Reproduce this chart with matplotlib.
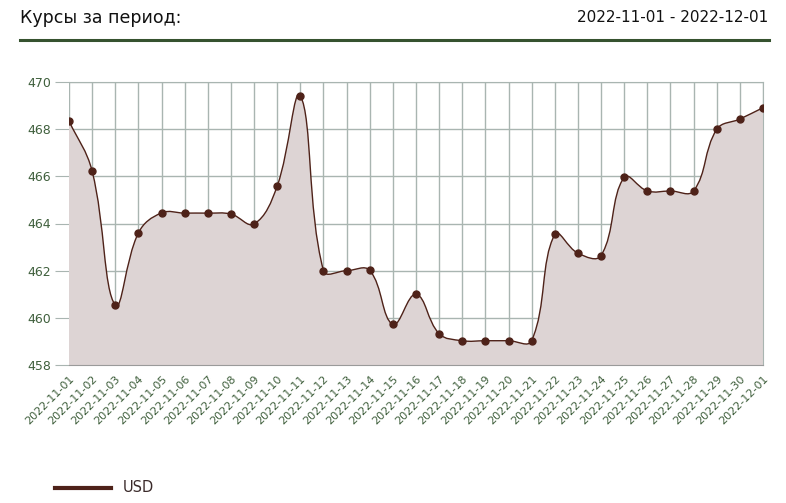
import matplotlib
matplotlib.use("Agg")
import matplotlib.pyplot as plt
import numpy as np
from matplotlib.path import Path
from matplotlib.patches import PathPatch
from matplotlib.lines import Line2D

dates = [
    "2022-11-01", "2022-11-02", "2022-11-03", "2022-11-04", "2022-11-05",
    "2022-11-06", "2022-11-07", "2022-11-08", "2022-11-09", "2022-11-10",
    "2022-11-11", "2022-11-12", "2022-11-13", "2022-11-14", "2022-11-15",
    "2022-11-16", "2022-11-17", "2022-11-18", "2022-11-19", "2022-11-20",
    "2022-11-21", "2022-11-22", "2022-11-23", "2022-11-24", "2022-11-25",
    "2022-11-26", "2022-11-27", "2022-11-28", "2022-11-29", "2022-11-30",
    "2022-12-01",
]
usd = [
    468.35, 466.22, 460.54, 463.60, 464.45,
    464.44, 464.44, 464.40, 463.98, 465.59,
    469.42, 462.00, 462.00, 462.01, 459.72,
    461.00, 459.33, 459.03, 459.03, 459.03,
    459.03, 463.54, 462.74, 462.64, 465.96,
    465.38, 465.38, 465.38, 467.99, 468.43,
    468.91,
]
y_ticks = [458, 460, 462, 464, 466, 468, 470]

LINE = "#4e2219"
FILL = "#ddd4d4"
GRID = "#a9b5b1"
TICK_TEXT = "#3f5f3c"


def spline_path(xs, ys, sx, sy, tension=0.4):
    # chart.js style bezier control points, computed in pixel space
    px = np.asarray(xs, dtype=float) * sx
    py = np.asarray(ys, dtype=float) * sy
    n = len(px)
    verts = [(xs[0], ys[0])]
    codes = [Path.MOVETO]
    cps = []
    for i in range(n):
        p0 = (px[max(i - 1, 0)], py[max(i - 1, 0)])
        p1 = (px[i], py[i])
        p2 = (px[min(i + 1, n - 1)], py[min(i + 1, n - 1)])
        d01 = np.hypot(p1[0] - p0[0], p1[1] - p0[1])
        d12 = np.hypot(p2[0] - p1[0], p2[1] - p1[1])
        tot = d01 + d12
        s01 = d01 / tot if tot else 0
        s12 = d12 / tot if tot else 0
        fa, fb = tension * s01, tension * s12
        prev_cp = (p1[0] - fa * (p2[0] - p0[0]), p1[1] - fa * (p2[1] - p0[1]))
        next_cp = (p1[0] + fb * (p2[0] - p0[0]), p1[1] + fb * (p2[1] - p0[1]))
        cps.append((prev_cp, next_cp))
    for i in range(n - 1):
        c1 = cps[i][1]
        c2 = cps[i + 1][0]
        verts += [(c1[0] / sx, c1[1] / sy), (c2[0] / sx, c2[1] / sy), (xs[i + 1], ys[i + 1])]
        codes += [Path.CURVE4] * 3
    return verts, codes


fig = plt.figure(figsize=(7.86, 5.03), dpi=100)
ax = fig.add_axes([69 / 786, 138 / 503, 694 / 786, 283 / 503])

x = np.arange(len(dates))
ymin, ymax = y_ticks[0], y_ticks[-1]
verts, codes = spline_path(x, usd, 694 / (len(dates) - 1), 283 / (ymax - ymin))

fill_verts = verts + [(x[-1], ymin), (x[0], ymin), (x[0], usd[0])]
fill_codes = codes + [Path.LINETO, Path.LINETO, Path.CLOSEPOLY]
ax.add_patch(PathPatch(Path(fill_verts, fill_codes), facecolor=FILL, edgecolor="none", zorder=1))
ax.add_patch(PathPatch(Path(verts, codes), facecolor="none", edgecolor=LINE, lw=1.0, zorder=3))
ax.plot(x, usd, "o", color=LINE, markersize=5, zorder=4)

ax.set_xlim(x[0], x[-1])
ax.set_ylim(ymin, ymax)
ax.set_xticks(x)
ax.set_xticklabels(dates, rotation=45, ha="right", rotation_mode="anchor",
                   fontsize=8, color=TICK_TEXT)
ax.set_yticks(y_ticks)
ax.set_yticklabels([str(v) for v in y_ticks], fontsize=9, color=TICK_TEXT)
ax.grid(True, color=GRID, lw=1.0, zorder=0)
ax.set_axisbelow(True)
ax.tick_params(axis="y", length=10, color=GRID, pad=3)
ax.tick_params(axis="x", length=0, pad=6)
for side in ["top", "right", "left"]:
    ax.spines[side].set_color(GRID)
ax.spines["bottom"].set_color("#9a9a9a")
ax.spines["left"].set_visible(False)

fig.text(20 / 786, 1 - 18 / 503, "Курсы за период:", fontsize=12.5, color="#111111", va="center")
fig.text(768 / 786, 1 - 18 / 503, "2022-11-01 - 2022-12-01", fontsize=11, color="#111111",
         va="center", ha="right")
fig.add_artist(Line2D([20 / 786, 769 / 786], [1 - 40 / 503, 1 - 40 / 503], color="#36522f", lw=2.2))

fig.add_artist(Line2D([55 / 786, 111 / 786], [1 - 488 / 503, 1 - 488 / 503], color=LINE, lw=3))
fig.text(123 / 786, 1 - 488 / 503, "USD", fontsize=10.5, color="#3a2a2a", va="center")

fig.savefig("out.png", dpi=100)
